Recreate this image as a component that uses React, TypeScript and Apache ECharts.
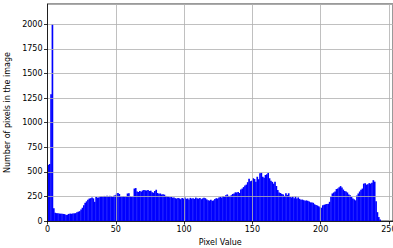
import React, { useEffect, useRef } from "react";
import * as echarts from "echarts";

const binStart: number[] = Array.from({ length: 256 }, (_, i) => i);

const counts: number[] = [
  570, 580, 1290, 2000,
  130, 85, 80, 78, 76, 75, 74, 72, 70, 62,
  65, 72, 75, 74, 76, 78, 80,
  88, 95, 100, 118, 135, 160, 185, 200, 215,
  228, 232, 238, 230, 195, 245, 238, 240, 250, 252,
  248, 255, 252, 258, 250, 256, 254, 246, 258, 262,
  280, 285, 275, 250, 248, 252, 248, 250, 280, 282,
  252, 248, 250, 330, 335, 300, 295, 305, 298, 310,
  315, 312, 310, 315, 305, 308, 292, 288, 305, 318,
  285, 278, 280, 270, 272, 268, 255, 250, 248, 242,
  245, 238, 240, 232, 228, 235, 230, 222, 235, 228,
  238, 225, 230, 218, 235, 228, 232, 225, 238, 230,
  228, 235, 222, 230, 236, 232, 220, 210, 208, 215,
  205, 210, 225, 232, 228, 240, 245, 238, 255, 248,
  262, 270, 256, 250, 262, 275, 280, 292, 290, 296,
  285, 320, 330, 345, 360, 370, 395, 430, 405, 410,
  435, 428, 400, 450, 425, 485, 492, 450, 440, 468,
  475, 490, 435, 410, 398, 380, 400, 356, 315, 290,
  285, 275, 270, 255, 282, 265, 282, 245, 240, 248,
  232, 250, 228, 240, 225, 215, 218, 212, 205, 210,
  205, 198, 190, 188, 185, 170, 162, 158, 150, 140,
  135, 160, 165, 170, 172, 175, 195, 245, 280, 290,
  300, 325, 330, 343, 355, 340, 320, 305, 300, 290,
  270, 262, 245, 230, 220, 210, 260, 280, 300, 318,
  330, 380, 385, 370, 375, 385, 380, 390, 415, 400,
  200, 90, 40, 15, 0, 0, 0, 0, 0, 0,
  0, 0,
];

const xTicks: number[] = [0, 50, 100, 150, 200, 250];
const yTicks: number[] = [0, 250, 500, 750, 1000, 1250, 1500, 1750, 2000];

const xLabel = "Pixel Value";
const yLabel = "Number of pixels in the image";

export default function App() {
  const ref = useRef<HTMLDivElement>(null);
  useEffect(() => {
    if (!ref.current) return;
    document.body.style.margin = "0";
    const chart = echarts.init(ref.current, undefined, { renderer: "svg" });
    const data = binStart.map((b, i) => [b, counts[i] ?? 0]);
    const font = "DejaVu Sans";
    chart.setOption({
      animation: false,
      backgroundColor: "#ffffff",
      grid: {
        left: 47.5,
        right: 0,
        top: 4,
        bottom: 27,
        containLabel: false,
        outerBoundsMode: "none",
        show: true,
        borderColor: "#000000",
        borderWidth: 0.8,
        backgroundColor: "transparent",
      },
      xAxis: {
        type: "value",
        min: 0,
        max: 253,
        interval: 50,
        z: 5,
        name: xLabel,
        nameLocation: "middle",
        nameGap: 17,
        nameTextStyle: { fontFamily: font, fontSize: 8, color: "#000" },
        axisLine: { show: true, onZero: false, lineStyle: { color: "#000", width: 0.8 } },
        axisTick: { show: true, length: 3.5, lineStyle: { color: "#000", width: 0.8 } },
        axisLabel: {
          fontFamily: font,
          fontSize: 8,
          color: "#000",
          margin: 4,
          showMaxLabel: false,
          formatter: (v: number) => (xTicks.includes(v) ? String(v) : ""),
        },
        splitLine: { show: true, lineStyle: { color: "#b0b0b0", width: 0.8 } },
      },
      yAxis: {
        type: "value",
        min: 0,
        max: 2207,
        interval: 250,
        z: 5,
        name: yLabel,
        nameLocation: "middle",
        nameGap: 33,
        nameTextStyle: { fontFamily: font, fontSize: 8, color: "#000" },
        axisLine: { show: true, onZero: false, lineStyle: { color: "#000", width: 0.8 } },
        axisTick: { show: true, length: 3.5, lineStyle: { color: "#000", width: 0.8 } },
        axisLabel: {
          fontFamily: font,
          fontSize: 8,
          color: "#000",
          margin: 5,
          showMaxLabel: false,
          formatter: (v: number) => (yTicks.includes(v) ? String(v) : ""),
        },
        splitLine: { show: true, lineStyle: { color: "#b0b0b0", width: 0.8 } },
      },
      series: [
        {
          type: "custom",
          z: 2,
          encode: { x: 0, y: 1 },
          data,
          renderItem: (_params: any, api: any) => {
            const x0 = api.value(0);
            const v = api.value(1);
            const p0 = api.coord([x0, 0]);
            const p1 = api.coord([x0 + 1, v]);
            return {
              type: "rect",
              shape: {
                x: p0[0],
                y: p1[1],
                width: p1[0] - p0[0] + 0.3,
                height: p0[1] - p1[1],
              },
              style: { fill: "#0000ff", stroke: null },
            };
          },
        },
      ],
    });
    return () => chart.dispose();
  }, []);
  return (
    <div
      ref={ref}
      style={{ position: "absolute", left: 0, top: 0, width: 393, height: 248 }}
    />
  );
}
